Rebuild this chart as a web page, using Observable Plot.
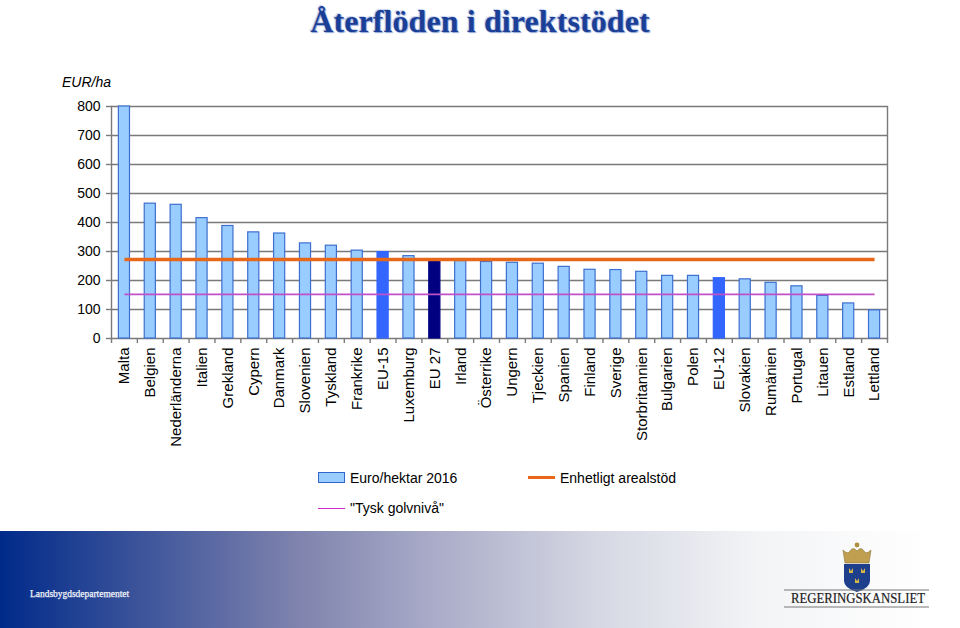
<!DOCTYPE html>
<html lang="sv">
<head>
<meta charset="utf-8">
<script src="https://cdn.jsdelivr.net/npm/d3@7"></script>
<script src="https://cdn.jsdelivr.net/npm/@observablehq/plot@0.6"></script>
<style>
  html,body{margin:0;padding:0;background:#fff;width:960px;height:628px;overflow:hidden;font-family:"Liberation Sans",Arial,sans-serif;color:#000}
  #head{position:relative;height:60px}
  #title{position:absolute;left:0;right:0;top:3px;margin:0;text-align:center;font:bold 32px "Liberation Serif",serif;letter-spacing:.1px;color:#1b3f96;text-shadow:1px 1px 1px #8fa6d8,-1px -1px 1px #c4d0ea}
  #unit{position:absolute;left:62px;top:74px;font:italic 14px "Liberation Sans",Arial,sans-serif;z-index:2}
  #chart{height:400px}
  #chart svg{display:block}
  #legend{position:relative;height:71px;font-size:14px}
  #legend span{position:absolute;white-space:nowrap;line-height:16px}
  #legend i{position:absolute;display:block;box-sizing:border-box}
  #footer{position:relative;height:97px;background:linear-gradient(90deg,#002a8a 0%,#7f83ad 31%,#a9abc8 45%,#d5d7e3 62%,#f3f4f6 79%,#fff 97%)}
  #footer .dept{position:absolute;left:30px;top:58px;color:#f2f4fb;font:9.45px "Liberation Serif",serif;-webkit-text-stroke:.25px #f2f4fb}
  #footer svg{position:absolute;left:770px;top:0}
</style>
</head>
<body>
<div id="head"><h1 id="title">Återflöden i direktstödet</h1><div id="unit">EUR/ha</div></div>
<div id="chart"></div>
<div id="legend">
  <i style="left:318px;top:12px;width:27px;height:11px;background:#99ccff;border:1px solid #3366cc"></i>
  <span style="left:350px;top:10px">Euro/hektar 2016</span>
  <i style="left:528px;top:16px;width:27px;height:3px;background:#e8681a"></i>
  <span style="left:560px;top:10px">Enhetligt arealstöd</span>
  <i style="left:318px;top:48px;width:27px;height:1px;background:#d030d0"></i>
  <span style="left:350px;top:40px">"Tysk golvnivå"</span>
</div>
<div id="footer">
  <div class="dept">Landsbygdsdepartementet</div>
  <svg width="190" height="97" viewBox="0 0 190 97">
    <path d="M75 32 L73 19 Q78 24 80 20 Q83 15 87 20 Q91 15 94 20 Q96 24 101 19 L99 32 Z" fill="#c0a050" stroke="#8a7434" stroke-width="0.6"/>
    <circle cx="87" cy="14" r="2.4" fill="#b09040"/>
    <path d="M74 33 H100 V50 Q100 57 87 61 Q74 57 74 50 Z" fill="#1d3f8c"/>
    <path d="M79 37 l2 3 2-3 v5 h-4z M91 37 l2 3 2-3 v5 h-4z M85 47 l2 3 2-3 v5 h-4z" fill="#d6b84a"/>
    <line x1="14" x2="159" y1="59" y2="59" stroke="#777" stroke-width="1"/>
    <line x1="14" x2="159" y1="76" y2="76" stroke="#777" stroke-width="1"/>
    <text x="21" y="72" font-family="Liberation Serif,serif" font-size="14" textLength="134" lengthAdjust="spacingAndGlyphs" fill="#222" stroke="#222" stroke-width="0.2">REGERINGSKANSLIET</text>
  </svg>
</div>
<script>
const categories = ["Malta","Belgien","Nederländerna","Italien","Grekland","Cypern","Danmark","Slovenien","Tyskland","Frankrike","EU-15","Luxemburg","EU 27","Irland","Österrike","Ungern","Tjeckien","Spanien","Finland","Sverige","Storbritannien","Bulgarien","Polen","EU-12","Slovakien","Rumänien","Portugal","Litauen","Estland","Lettland"];
const eurPerHa = [800,465,461,415,388,366,362,328,320,303,298,284,268,267,264,261,258,247,237,236,230,216,216,208,204,192,180,147,121,97];
const highlight = {"EU-15":"#3366ff","EU-12":"#3366ff","EU 27":"#000080"};
const yTicks = [0,100,200,300,400,500,600,700,800];
const flatRate = 272;
const germanFloor = 152;

const rows = categories.map((c,i)=>({category:c,value:eurPerHa[i]}));
const ends = [categories[0],categories[categories.length-1]];
const step = (887-111)/categories.length;
const grey = "#7a7a7a";

const plot = Plot.plot({
  width:960,height:400,
  marginTop:46,marginBottom:122,marginLeft:111,marginRight:73,
  style:{fontFamily:'"Liberation Sans",Arial,sans-serif',fontSize:"14px",color:"#000",background:"transparent",overflow:"visible"},
  x:{type:"band",domain:categories,paddingInner:0.57,paddingOuter:0.285,align:0.5,round:false,label:null},
  y:{domain:[0,800],label:null},
  marks:[
    Plot.ruleY(yTicks,{stroke:grey,strokeWidth:1.4,strokeOpacity:1}),
    Plot.frame({anchor:"left",stroke:grey,strokeWidth:1.4,strokeOpacity:1}),
    Plot.frame({anchor:"right",stroke:grey,strokeWidth:1.4,strokeOpacity:1}),
    Plot.axisY({ticks:yTicks,tickSize:5,tickPadding:6,stroke:grey,strokeWidth:1.4,strokeOpacity:1,fill:"#000",label:null,fontSize:14}),
    Plot.axisX({text:null,label:null,tickSize:5,dx:-step/2,stroke:grey,strokeWidth:1.4,strokeOpacity:1}),
    Plot.axisX([ends[1]],{text:null,label:null,tickSize:5,dx:step/2,stroke:grey,strokeWidth:1.4,strokeOpacity:1}),
    Plot.axisX({tickSize:0,tickRotate:-90,tickPadding:9,fill:"#000",label:null,fontSize:15}),
    Plot.barY(rows,{x:"category",y:"value",fill:d=>highlight[d.category]||"#99ccff",stroke:d=>highlight[d.category]||"#3d6fd0",strokeWidth:1.2}),
    Plot.lineY(ends.map(c=>({c,v:flatRate})),{x:"c",y:"v",stroke:"#e8681a",strokeWidth:3.5,strokeLinecap:"butt"}),
    Plot.lineY(ends.map(c=>({c,v:germanFloor})),{x:"c",y:"v",stroke:"#c050c8",strokeWidth:1.6,strokeLinecap:"butt"})
  ]
});
document.getElementById("chart").append(plot);
</script>
</body>
</html>
